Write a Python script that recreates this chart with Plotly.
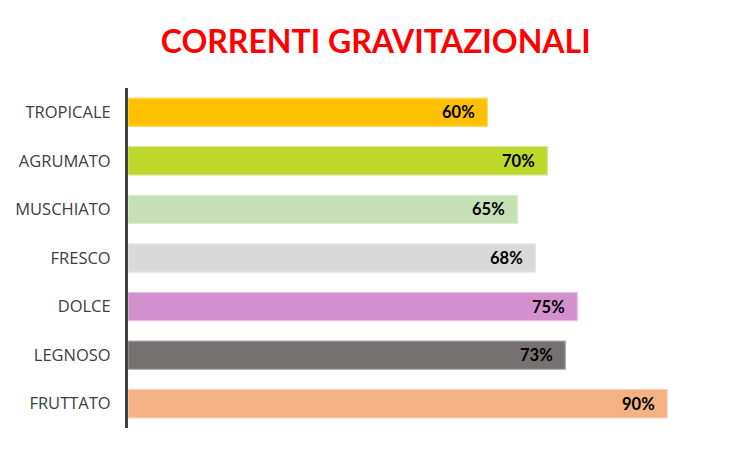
import plotly.graph_objects as go

# dati
categorie = ["TROPICALE", "AGRUMATO", "MUSCHIATO", "FRESCO", "DOLCE", "LEGNOSO", "FRUTTATO"]
valori = [60, 70, 65, 68, 75, 73, 90]
colori = ["#FFC000", "#BDD72A", "#C5E0B4", "#D9D9D9", "#D291CE", "#767171", "#F4B183"]
bordi = ["#FFDA66", "#D4E47F", "#DCEDD2", "#E8E8E8", "#E3BCE1", "#A6A2A2", "#F8CCAD"]

fig = go.Figure()
fig.add_trace(go.Bar(
    y=categorie,
    x=valori,
    orientation="h",
    marker=dict(color=colori, line=dict(color=bordi, width=1.2)),
    width=0.58,
    hoverinfo="skip",
))

## etichette percentuali dentro le barre
for c, v in zip(categorie, valori):
    fig.add_annotation(
        x=v, y=c, text="<b>%d%%</b>" % v, showarrow=False,
        xanchor="right", xshift=-10,
        font=dict(family="Lato", size=16.5, color="#000000"),
    )

# la pagina html ha un margine di 8px: margini ridotti di conseguenza
fig.update_layout(
    width=752, height=452,
    margin=dict(l=120, r=33, t=80, b=32),
    paper_bgcolor="white", plot_bgcolor="white",
    showlegend=False,
    title=dict(
        text="<b>CORRENTI GRAVITAZIONALI</b>",
        x=0.489, xanchor="center", y=0.926, yanchor="middle",
        font=dict(family="Lato", size=32, color="#FF0000"),
    ),
)
fig.update_xaxes(range=[0, 100], visible=False)
fig.update_yaxes(
    autorange="reversed", automargin=False,
    showline=True, linecolor="#404040", linewidth=3,
    ticks="", ticklabelstandoff=11,
    tickfont=dict(family="Open Sans", size=16.5, color="#404040"),
    showgrid=False, zeroline=False,
)

fig.write_html("out.html")
